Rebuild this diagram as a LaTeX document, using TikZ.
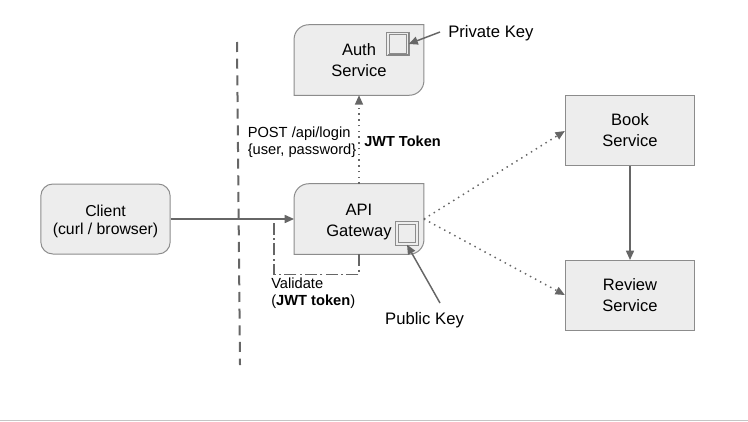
\documentclass[tikz,border=0pt]{standalone}
\usepackage{fontspec}
\setmainfont{Liberation Sans}
\usepackage{tikz}
\usetikzlibrary{arrows.meta,backgrounds}

\definecolor{boxfill}{HTML}{EDEDED}
\definecolor{boxline}{HTML}{8C8C8C}
\definecolor{arrowline}{HTML}{666666}
\tikzset{
  service/.style={minimum width=97pt,minimum height=52.5pt,inner sep=0pt,align=center,font=\fontsize{12.4}{15.8}\selectfont},
  boxed/.style={service,draw=boxline,fill=boxfill,line width=0.75pt},
  keybox/.style={draw=boxline,double=boxfill,double distance=1.2pt,fill=boxfill,line width=0.75pt,minimum width=15pt,minimum height=16pt,inner sep=0pt},
  label/.style={inner sep=0pt,align=left,font=\fontsize{11}{12.9}\selectfont},
  biglabel/.style={inner sep=0pt,font=\fontsize{12.5}{15}\selectfont},
  flow/.style={draw=arrowline,line width=1.1pt,-{Triangle[length=7pt,width=6pt]}},
  token/.style={flow,dash pattern=on 1.1pt off 3.2pt},
}

\begin{document}
\begin{tikzpicture}[x=0.75pt,y=-0.75pt]
    \useasboundingbox (0,0) rectangle (748,421);
    %boundary
    \coordinate (gateTop) at (237,42);
    \coordinate (gateEnd) at (240,365);
    \coordinate (ruleL) at (0,420.5);
    \coordinate (ruleR) at (748,420.5);
    \draw[draw=arrowline,line width=1.5pt,dash pattern=on 7.5pt off 5pt] (gateTop) -- (gateEnd);
    \draw[draw=boxline!50,line width=0.9pt] (ruleL) -- (ruleR);
    %services
    \node[boxed,rounded corners=9pt,font=\fontsize{11.85}{13.5}\selectfont] (client) at (105.5,219) {\\[-1.1pt]Client\\(curl / browser)};
    \node[boxed] (book) at (630,130.5) {Book\\Service};
    \node[boxed] (review) at (630,295.5) {Review\\Service};
    \node[service] (auth) at (359,60) {Auth\\Service};
    \node[service] (api) at (359,219) {\\[-2.4pt]API\\Gateway};
    \begin{scope}[on background layer]
      \draw[draw=boxline,fill=boxfill,line width=0.75pt] (auth.south west) [rounded corners=11pt] -- (auth.north west) [sharp corners] -- (auth.north east) [rounded corners=11pt] -- (auth.south east) [sharp corners] -- cycle;
      \draw[draw=boxline,fill=boxfill,line width=0.75pt] (api.south west) [rounded corners=11pt] -- (api.north west) [sharp corners] -- (api.north east) [rounded corners=11pt] -- (api.south east) [sharp corners] -- cycle;
    \end{scope}
    %keys
    \node[keybox] (privbox) at (398,44) {};
    \node[keybox] (pubbox) at (407,233.5) {};
    \draw[draw=arrowline!80,line width=1.3pt] (privbox.south west) -- (privbox.south east) -- (privbox.north east);
    %labels
    \node[biglabel,anchor=west] (privkey) at (448,33) {Private Key};
    \node[biglabel,anchor=center] (pubkey) at (424.5,320.5) {Public Key};
    \node[label,anchor=west] (post) at (247.5,142.5) {POST /api/login\\\{user, password\}};
    \node[label,anchor=west,font=\fontsize{10.9}{13}\selectfont\bfseries] (jwt) at (364,141) {JWT Token};
    \node[label,anchor=west] (validate) at (271,293.5) {Validate\\(\textbf{JWT token})};
    %edges
    \coordinate (privtail) at (440,32);
    \coordinate (pubtail) at (440,303);
    \coordinate (loopend) at (274,219);
    \draw[flow] (client) -- (api);
    \draw[token] (api) -- (auth);
    \draw[token] (api.east) -- (book.west |- 0,131);
    \draw[token] (api.east) -- (review.west |- 0,295);
    \draw[flow] (book) -- (review);
    \draw[flow] (privtail) -- (privbox.east);
    \draw[flow] (pubtail) -- (pubbox.south);
    \draw[draw=arrowline,line width=1.1pt,dash pattern=on 9pt off 2.5pt on 1.5pt off 2.5pt] (api.south) -- ++(0,20) -| (loopend);
\end{tikzpicture}
\end{document}
